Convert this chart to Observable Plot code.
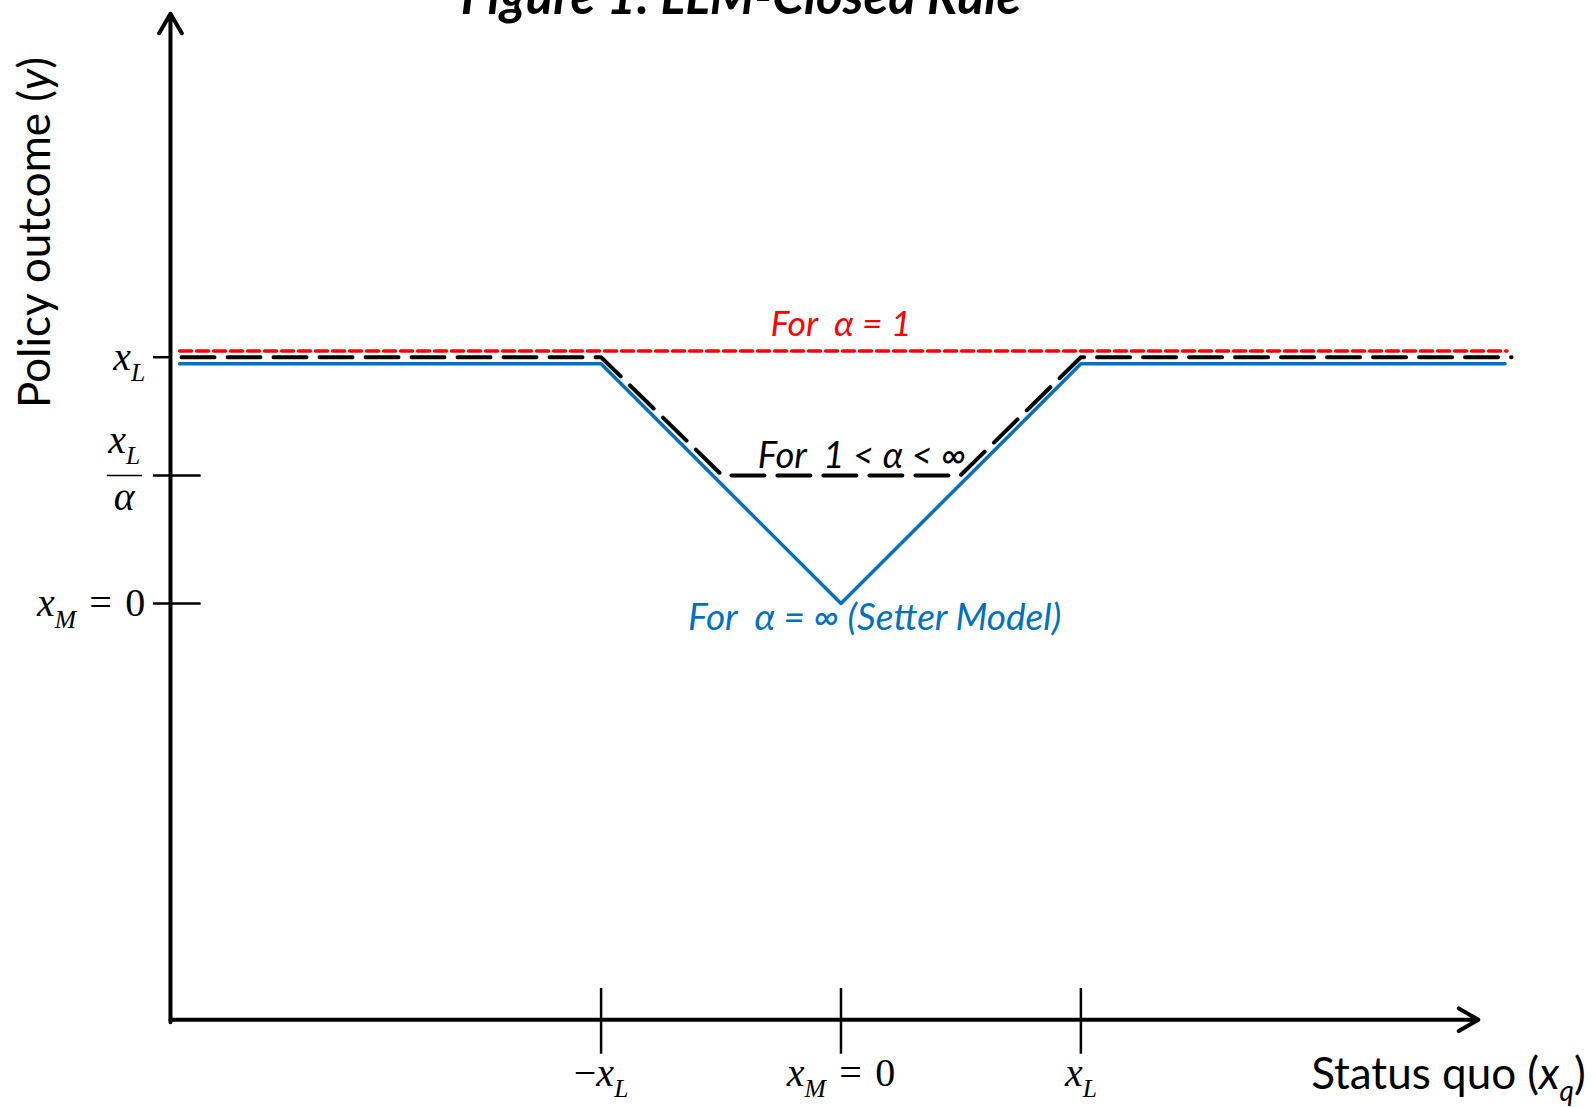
<!DOCTYPE html>
<html><head><meta charset="utf-8">
<script src="https://cdn.jsdelivr.net/npm/d3@7"></script>
<script src="https://cdn.jsdelivr.net/npm/@observablehq/plot@0.6"></script>
<style>
html,body{margin:0;padding:0;background:#fff;overflow:hidden;}
#chart svg{display:block;overflow:visible;}
</style></head><body><div id="chart"></div>
<script>
// ---- data (x in units of x_L, y in units of x_L) ----
const xTickValues = [-1, 0, 1];
const xTickLabels = ["−*x*_L", "*x*_M\u2004=\u20040", "*x*_L"];
const yTickValues = [1, 0.52, 0];
const yTickLabels = ["*x*_L", "", "*x*_M\u2004=\u20040"];
const fracNumerator = "*x*_L";
const fracDenominator = "*α*";

const redX = [-2.757, 2.776];
const redY = [1.025, 1.025];
const blackX = [-2.749, -1, -0.495, 0.498, 1, 2.795];
const blackY = [1, 1, 0.52, 0.52, 1, 1];
const blueX = [-2.757, -1, 0, 1, 2.768];
const blueY = [0.973, 0.973, 0, 0.973, 0.973];

const titleText = "Figure 1: LLM-Closed Rule";
const xTitle = "Status quo (*x*_q)";
const yTitle = "Policy outcome (*y*)";
const noteRed = "For\u00a0 α = 1";
const noteBlack = "For\u00a0 1 < α < ∞";
const noteBlue = "For\u00a0 α = ∞ (Setter Model)";

// axis geometry in data units
const axisOriginX = -2.795, axisOriginY = -1.69;
const xAxisEnd = 2.657, yAxisEnd = 2.395;

const pts = (xs, ys) => xs.map((x, i) => ({x, y: ys[i]}));
const sans = "Lato, 'Open Sans', sans-serif";
const serif = "'Liberation Serif', 'DejaVu Serif', serif";
const mathSize = 40;

const plot = Plot.plot({
  width: 1596, height: 1107, margin: 0,
  x: {domain: [-3.5035, 3.1493], axis: null},
  y: {domain: [-2.0463, 2.4483], axis: null},
  marks: [
    // axes
    Plot.arrow([{x1: axisOriginX, y1: axisOriginY - 0.01, x2: axisOriginX, y2: yAxisEnd}],
      {x1: "x1", y1: "y1", x2: "x2", y2: "y2", stroke: "black", strokeWidth: 4, headLength: 8.5, headAngle: 60}),
    Plot.arrow([{x1: axisOriginX, y1: axisOriginY, x2: xAxisEnd, y2: axisOriginY}],
      {x1: "x1", y1: "y1", x2: "x2", y2: "y2", stroke: "black", strokeWidth: 4, headLength: 8.5, headAngle: 60}),
    // x ticks
    Plot.ruleX(xTickValues, {x: d => d, y1: -1.563, y2: -1.83, stroke: "black", strokeWidth: 2.5}),
    // y ticks
    Plot.ruleY(yTickValues, {y: d => d, x1: -2.866, x2: (d, i) => i === 0 ? -2.79 : -2.667, stroke: "black", strokeWidth: 2.5}),
    // fraction bar
    Plot.ruleY([0.52], {y: d => d, x1: -3.058, x2: -2.912, stroke: "black", strokeWidth: 1.5}),
    // series
    Plot.line(pts(blueX, blueY), {x: "x", y: "y", stroke: "#0070C0", strokeWidth: 3.5}),
    Plot.line(pts(blackX, blackY), {x: "x", y: "y", stroke: "black", strokeWidth: 4, strokeDasharray: "33 13"}),
    Plot.line(pts(redX, redY), {x: "x", y: "y", stroke: "#FF0000", strokeWidth: 3.5, strokeDasharray: "12 5"}),
    // tick labels
    Plot.text(xTickValues, {x: d => d, y: -1.905, text: (d, i) => xTickLabels[i], fontFamily: serif, fontSize: mathSize, textAnchor: "middle", lineAnchor: "middle"}),
    Plot.text(yTickValues.filter((d, i) => yTickLabels[i]), {x: -2.9, y: d => d,
      text: d => yTickLabels[yTickValues.indexOf(d)], fontFamily: serif, fontSize: mathSize, textAnchor: "end", lineAnchor: "middle"}),
    Plot.text([fracNumerator], {x: -2.988, y: 0.665, text: d => d, fontFamily: serif, fontSize: mathSize, textAnchor: "middle", lineAnchor: "middle"}),
    Plot.text([fracDenominator], {x: -2.988, y: 0.43, text: d => d, fontFamily: serif, fontSize: mathSize, textAnchor: "middle", lineAnchor: "middle"}),
    // titles
    Plot.text([titleText], {x: -0.417, y: 2.392, text: d => d, fontFamily: sans, fontSize: 51, fontWeight: "bold", fontStyle: "italic", textAnchor: "middle", lineAnchor: "bottom"}),
    Plot.text([xTitle], {x: 2.532, y: -1.912, text: d => d, fontFamily: sans, fontSize: 44, textAnchor: "middle", lineAnchor: "middle"}),
    Plot.text([yTitle], {x: -3.355, y: 1.506, text: d => d, fontFamily: sans, fontSize: 44, rotate: -90, textAnchor: "middle", lineAnchor: "middle"}),
    // annotations
    Plot.text([noteRed], {x: 0, y: 1.133, text: d => d, fill: "#FF0000", fontFamily: sans, fontSize: 35.5, fontStyle: "italic", textAnchor: "middle", lineAnchor: "middle"}),
    Plot.text([noteBlack], {x: 0.087, y: 0.597, text: d => d, fill: "black", fontFamily: sans, fontSize: 36.5, fontStyle: "italic", textAnchor: "middle", lineAnchor: "middle"}),
    Plot.text([noteBlue], {x: 0.14, y: -0.061, text: d => d, fill: "#0070C0", fontFamily: sans, fontSize: 37, fontStyle: "italic", textAnchor: "middle", lineAnchor: "middle"})
  ]
});

// rich text: *...* italic, _X subscript
function richify(el) {
  const s = el.textContent;
  if (!/[*_]/.test(s)) return;
  const base = parseFloat(getComputedStyle(el).fontSize) || 30;
  const ns = "http://www.w3.org/2000/svg";
  el.textContent = "";
  let italic = false, buf = "", pending = 0;
  const shift = 0.28 * base;
  const add = (txt, o) => {
    if (!txt) return;
    const t = document.createElementNS(ns, "tspan");
    t.textContent = txt;
    t.setAttribute("font-style", o.italic ? "italic" : "normal");
    if (o.size) t.setAttribute("font-size", o.size);
    const dy = (o.dy || 0) + pending;
    if (dy) t.setAttribute("dy", dy);
    pending = 0;
    el.appendChild(t);
  };
  for (let i = 0; i < s.length; i++) {
    const c = s[i];
    if (c === "*") { add(buf, {italic}); buf = ""; italic = !italic; }
    else if (c === "_") { add(buf, {italic}); buf = ""; add(s[i + 1], {italic: true, size: 0.64 * base, dy: shift}); pending = -shift; i++; }
    else buf += c;
  }
  add(buf, {italic});
}
document.getElementById("chart").appendChild(plot);
d3.select(plot).selectAll("text").each(function() { richify(this); });
</script>
</body></html>
